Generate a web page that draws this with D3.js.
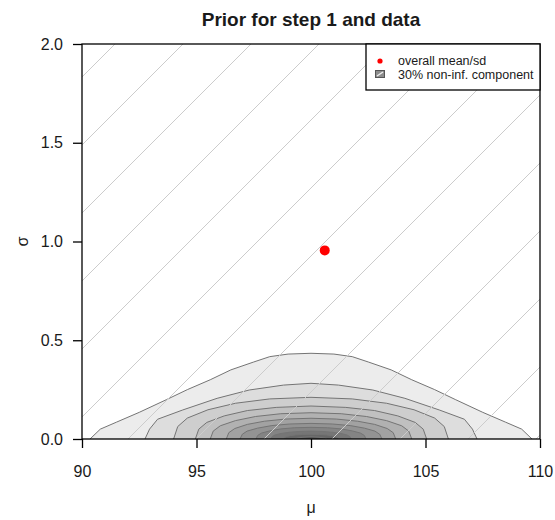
<!DOCTYPE html>
<html>
<head>
  <meta charset="utf-8">
  <script src="https://d3js.org/d3.v7.min.js"></script>
  <style>
    body { margin: 0; background: #fff; }
    text { font-family: "Liberation Sans", Arial, sans-serif; fill: #1a1a1a; }
  </style>
</head>
<body>
<script>
  "use strict";

  // axis ticks
  var muTicks = [90, 95, 100, 105, 110];
  var sigmaTicks = [0, 0.5, 1, 1.5, 2];

  // overall mean / sd of the data
  var overallMean = [100.6];
  var overallSd = [0.955];

  // contour lines of the prior density, outermost first, [mu, sigma]
  var contour1 = [[90.35,0],[90.8,0.05],[91.5,0.085],[92.5,0.135],[93.7,0.2],[94.6,0.25],[95.6,0.3],[96.5,0.35],[97.5,0.39],[98.2,0.417],[99,0.43],[100,0.434],[101,0.43],[101.8,0.417],[102.5,0.39],[103.5,0.35],[104.4,0.3],[105.4,0.25],[106.3,0.2],[107.5,0.135],[108.5,0.085],[109.2,0.05],[109.65,0]];
  var contour2 = [[92.75,0],[92.95,0.05],[93.3,0.1],[94.4,0.147],[95.9,0.206],[97.3,0.248],[98.8,0.273],[100,0.282],[101.2,0.273],[102.7,0.248],[104.1,0.206],[105.6,0.147],[106.7,0.1],[107.05,0.05],[107.25,0]];
  var contour3 = [[94,0],[94.18,0.063],[94.6,0.106],[95.5,0.148],[96.7,0.181],[98.2,0.203],[100,0.211],[101.8,0.203],[103.3,0.181],[104.5,0.148],[105.4,0.106],[105.82,0.063],[106,0]];
  var contour4 = [[94.95,0],[95.1,0.05],[95.45,0.084],[96.21,0.117],[97.22,0.144],[98.48,0.16],[100,0.167],[101.52,0.16],[102.78,0.144],[103.79,0.117],[104.55,0.084],[104.9,0.05],[105.05,0]];
  var contour5 = [[95.6,0],[95.73,0.04],[96.04,0.067],[96.7,0.093],[97.58,0.114],[98.68,0.128],[100,0.133],[101.32,0.128],[102.42,0.114],[103.3,0.093],[103.96,0.067],[104.27,0.04],[104.4,0]];
  var contour6 = [[96.3,0],[96.41,0.032],[96.67,0.053],[97.22,0.074],[97.96,0.09],[98.89,0.101],[100,0.105],[101.11,0.101],[102.04,0.09],[102.78,0.074],[103.33,0.053],[103.59,0.032],[103.7,0]];
  var contour7 = [[96.9,0],[97,0.024],[97.21,0.04],[97.67,0.055],[98.29,0.068],[99.07,0.076],[100,0.079],[100.93,0.076],[101.71,0.068],[102.33,0.055],[102.79,0.04],[103,0.024],[103.1,0]];
  var contour8 = [[97.6,0],[97.67,0.018],[97.84,0.03],[98.2,0.041],[98.68,0.051],[99.28,0.057],[100,0.059],[100.72,0.057],[101.32,0.051],[101.8,0.041],[102.16,0.03],[102.33,0.018],[102.4,0]];
  var contour9 = [[98.25,0],[98.3,0.012],[98.42,0.02],[98.69,0.028],[99.04,0.034],[99.47,0.038],[100,0.04],[100.53,0.038],[100.96,0.034],[101.31,0.028],[101.58,0.02],[101.7,0.012],[101.75,0]];
  var contour10 = [[98.8,0],[98.84,0.007],[98.92,0.012],[99.1,0.017],[99.34,0.021],[99.64,0.023],[100,0.024],[100.36,0.023],[100.66,0.021],[100.9,0.017],[101.08,0.012],[101.16,0.007],[101.2,0]];
  var contour11 = [[99.3,0],[99.4,0.005],[99.65,0.009],[100,0.012],[100.35,0.009],[100.6,0.005],[100.7,0]];

  var legendLabels = ["overall mean/sd", "30% non-inf. component"];

  var contours = [contour1, contour2, contour3, contour4, contour5, contour6,
                  contour7, contour8, contour9, contour10, contour11];

  var W = 555, H = 520;
  var pLeft = 82, pRight = 540, pTop = 44, pBottom = 439;

  var svg = d3.select("body").append("svg")
      .attr("width", W)
      .attr("height", H);

  var x = d3.scaleLinear().domain([90, 110]).range([pLeft, pRight]);
  var y = d3.scaleLinear().domain([0, 2]).range([pBottom, pTop]);

  svg.append("clipPath").attr("id", "plotclip")
    .append("rect")
      .attr("x", pLeft).attr("y", pTop)
      .attr("width", pRight - pLeft).attr("height", pBottom - pTop);

  var plot = svg.append("g").attr("clip-path", "url(#plotclip)");

  // filled contour bands, light to dark
  var shade = d3.scaleLinear().domain([0, contours.length - 1]).range([236, 88]);
  var line = d3.line().x(function(d) { return x(d[0]); }).y(function(d) { return y(d[1]); });

  contours.forEach(function(c, i) {
    var g = Math.round(shade(i));
    plot.append("path")
      .attr("d", line(c) + "Z")
      .attr("fill", "rgb(" + g + "," + g + "," + g + ")")
      .attr("stroke", "none");
  });
  contours.forEach(function(c) {
    plot.append("path")
      .attr("d", line(c))
      .attr("fill", "none")
      .attr("stroke", "#747474")
      .attr("stroke-width", 1);
  });

  // 45 degree hatching of the non-informative component
  var step = 68;
  for (var c = 23 + step; c < (pRight + pBottom) + step; c += step) {
    plot.append("line")
      .attr("x1", c - pBottom).attr("y1", pBottom)
      .attr("x2", c - pTop).attr("y2", pTop)
      .attr("stroke", "#cccccc")
      .attr("stroke-width", 1);
  }

  // overall mean / sd
  plot.selectAll("circle.mean")
    .data(overallMean.map(function(m, i) { return [m, overallSd[i]]; }))
    .enter().append("circle")
      .attr("class", "mean")
      .attr("cx", function(d) { return x(d[0]); })
      .attr("cy", function(d) { return y(d[1]); })
      .attr("r", 5)
      .attr("fill", "#ff0000");

  // axes
  var xAxis = svg.append("g")
      .attr("transform", "translate(0," + pBottom + ")")
      .call(d3.axisBottom(x).tickValues(muTicks).tickSize(9).tickPadding(18)
            .tickFormat(d3.format("d")));
  var yAxis = svg.append("g")
      .attr("transform", "translate(" + pLeft + ",0)")
      .call(d3.axisLeft(y).tickValues(sigmaTicks).tickSize(9).tickPadding(10)
            .tickFormat(d3.format(".1f")));
  [xAxis, yAxis].forEach(function(a) {
    a.select(".domain").remove();
    a.selectAll("line").attr("stroke", "#000").attr("stroke-width", 1.3);
    a.selectAll("text").style("font-size", "16px").attr("fill", "#1a1a1a");
  });

  // plot box
  svg.append("rect")
    .attr("x", pLeft).attr("y", pTop)
    .attr("width", pRight - pLeft).attr("height", pBottom - pTop)
    .attr("fill", "none")
    .attr("stroke", "#000")
    .attr("stroke-width", 1.3);

  // titles
  svg.append("text")
    .attr("x", (pLeft + pRight) / 2).attr("y", 26)
    .attr("text-anchor", "middle")
    .style("font-size", "19px")
    .style("font-weight", "bold")
    .text("Prior for step 1 and data");

  svg.append("text")
    .attr("x", (pLeft + pRight) / 2).attr("y", 513)
    .attr("text-anchor", "middle")
    .style("font-size", "16px")
    .text("\u03bc");

  svg.append("text")
    .attr("transform", "translate(28," + ((pTop + pBottom) / 2) + ") rotate(-90)")
    .attr("text-anchor", "middle")
    .style("font-size", "16px")
    .text("\u03c3");

  // legend
  var lg = svg.append("g");
  lg.append("rect")
    .attr("x", 366).attr("y", pTop)
    .attr("width", pRight - 366).attr("height", 46)
    .attr("fill", "#fff")
    .attr("stroke", "#000")
    .attr("stroke-width", 1.3);
  lg.append("circle")
    .attr("cx", 380).attr("cy", 61)
    .attr("r", 2.6)
    .attr("fill", "#ff0000");
  lg.append("rect")
    .attr("x", 375.5).attr("y", 70.5)
    .attr("width", 9).attr("height", 7)
    .attr("fill", "#8c8c8c")
    .attr("stroke", "#555")
    .attr("stroke-width", 1);
  lg.append("line")
    .attr("x1", 377).attr("y1", 76)
    .attr("x2", 383).attr("y2", 72)
    .attr("stroke", "#eee")
    .attr("stroke-width", 1.5);
  lg.selectAll("text.leg")
    .data(legendLabels)
    .enter().append("text")
      .attr("class", "leg")
      .attr("x", 398)
      .attr("y", function(d, i) { return 65 + i * 13.5; })
      .style("font-size", "12.5px")
      .text(function(d) { return d; });
</script>
</body>
</html>
